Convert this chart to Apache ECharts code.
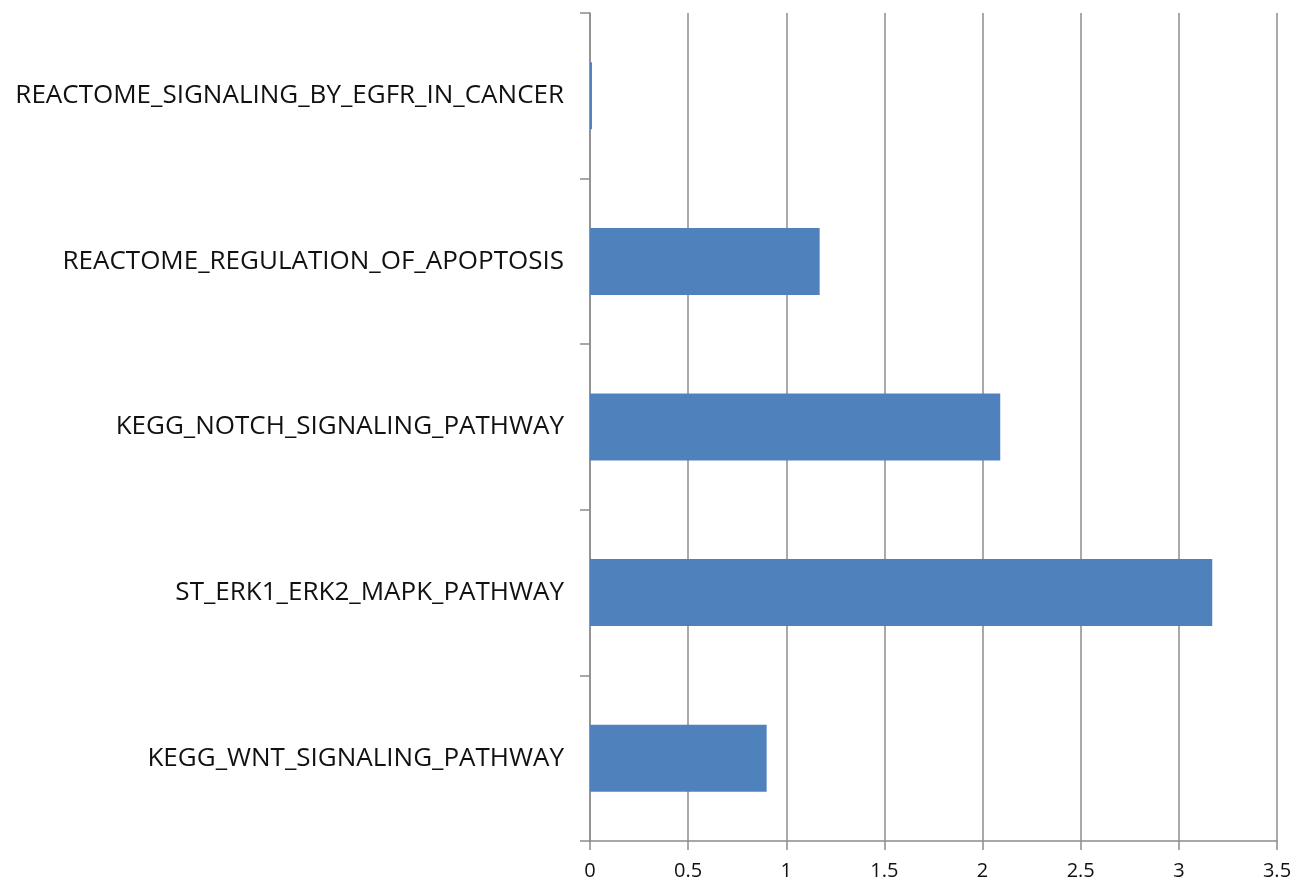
<!DOCTYPE html>
<html>
<head>
<meta charset="utf-8">
<script src="https://cdn.jsdelivr.net/npm/echarts@6/dist/echarts.min.js"></script>
<style>
  html, body { margin: 0; padding: 0; background: #fff; }
  #chart { width: 1298px; height: 882px; }
</style>
</head>
<body>
<div id="chart"></div>
<script>
// categories listed bottom to top (category axis on y starts at the bottom)
const pathways = [
  'KEGG_WNT_SIGNALING_PATHWAY',
  'ST_ERK1_ERK2_MAPK_PATHWAY',
  'KEGG_NOTCH_SIGNALING_PATHWAY',
  'REACTOME_REGULATION_OF_APOPTOSIS',
  'REACTOME_SIGNALING_BY_EGFR_IN_CANCER'
];
const scores = [0.9, 3.17, 2.09, 1.17, 0.01];
const xTicks = ['0', '0.5', '1', '1.5', '2', '2.5', '3', '3.5'];

const chart = echarts.init(document.getElementById('chart'));
const gray = '#8c8c8c';

const option = {
  animation: false,
  grid: { left: 590, right: 21, top: 13, bottom: 41, containLabel: false },
  xAxis: {
    type: 'value',
    min: 0,
    max: 3.5,
    interval: 0.5,
    axisLine: { show: true, lineStyle: { color: gray, width: 1.5 } },
    axisTick: { show: true, length: 9, lineStyle: { color: gray, width: 1.5 } },
    splitLine: { show: true, lineStyle: { color: gray, width: 1.5 } },
    axisLabel: {
      margin: 20,
      color: '#111',
      fontFamily: 'Open Sans',
      fontSize: 20,
      formatter: v => xTicks[Math.round(v / 0.5)]
    }
  },
  yAxis: {
    type: 'category',
    data: pathways,
    axisLine: { show: true, lineStyle: { color: gray, width: 1.5 } },
    axisTick: { show: true, length: 10, inside: false, lineStyle: { color: gray, width: 1.5 } },
    splitLine: { show: false },
    axisLabel: {
      margin: 26,
      color: '#111',
      fontFamily: 'Open Sans',
      fontSize: 26
    }
  },
  series: [{
    type: 'bar',
    data: scores,
    barWidth: 67,
    itemStyle: { color: '#4f81bd' }
  }]
};

chart.setOption(option);
</script>
</body>
</html>
